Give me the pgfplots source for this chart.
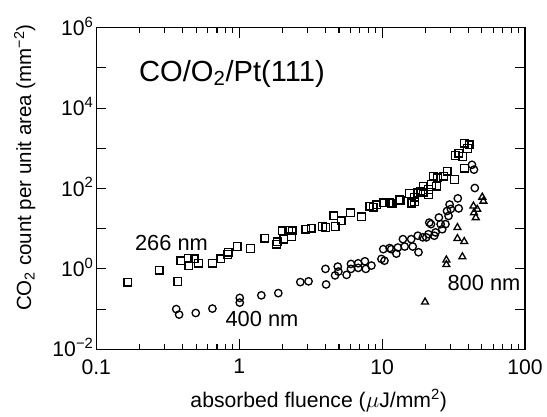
\documentclass[border=0pt]{standalone}
\usepackage{fontspec}
\setmainfont{Liberation Sans}
\usepackage{pgfplots}
\pgfplotsset{compat=1.18}
\newcommand{\mn}{\char"2212\relax}
\begin{document}
\begin{tikzpicture}
\begin{axis}[
  name=ax,
  xmode=log, ymode=log,
  scale only axis, width=324pt, height=243pt,
  xmin=0.1, xmax=100, ymin=1e-2, ymax=1e6,
  xtick={0.1,1,10,100}, xticklabels={0.1,1,10,100},
  ytick={1e-2,1e-1,1e0,1e1,1e2,1e3,1e4,1e5,1e6},
  yticklabels={10\textsuperscript{\mn2},,10\textsuperscript{0},,10\textsuperscript{2},,10\textsuperscript{4},,10\textsuperscript{6}},
  yminorticks=false,
  tick align=inside,
  major tick length=7.5pt, minor tick length=4pt,
  tick style={black, line width=0.8pt},
  axis line style={line width=1pt},
  tick label style={font=\fontsize{16}{19}\selectfont},
  yticklabel style={anchor=base east, yshift=-5.7pt, xshift=1.5pt},
  xticklabel style={yshift=-4pt},
  xlabel={absorbed fluence ($\mu$J/mm\textsuperscript{2})},
  ylabel={CO\textsubscript{2} count per unit area (mm\textsuperscript{\mn2})},
  every axis x label/.style={at={(rel axis cs:0.519,-0.182)}, anchor=base, font=\fontsize{16}{19}\selectfont},
  every axis y label/.style={at={(rel axis cs:-0.1667,0.565)}, rotate=90, anchor=center, font=\fontsize{15.5}{18}\selectfont},
  every axis plot/.append style={only marks, mark options={line width=1pt, fill=white}},
]
% 266 nm
\addplot[mark=square, mark size=2.9pt] coordinates {
(0.166,0.47)(0.275,0.93)(0.373,0.49)(0.39,1.6)(0.44,1.84)(0.445,1.2)(0.485,1.77)(0.52,1.4)
(0.65,1.38)(0.746,1.77)(0.83,2.27)(0.84,2.6)(0.97,3.6)(1.2,3.2)(1.51,5.8)(1.83,4.1)(1.86,4.7)
(2.0,8.9)(2.05,5.5)(2.22,9.2)(2.32,6.3)(2.35,8.9)(2.93,9.7)(3.2,10.3)(3.83,11.3)(4.04,10.7)
(4.69,11.3)(4.59,20.8)(5.17,15.6)(6.03,25)(7.2,19.9)(8.21,36.6)(8.66,34.7)(9.14,39)(10.2,44.3)
(11.2,44.3)(11.9,43.6)(11.6,42)(13.2,53)(13.4,51.6)(15.6,75)(16.0,44)(16.2,43.6)(16.9,47)
(16.9,61)(17.8,78)(18.7,86)(19.4,81)(19.4,114)(21.1,71)(21.1,94)(22.2,125)(22.8,202)(24,114)
(24.5,184)(26.9,202)(28.6,268)(32.2,167)(32.5,665)(34.4,760)(36.5,630)(37.6,1340)(39.7,1000)
(37.7,320)(40.8,1220)
};
% 400 nm
\addplot[mark=o, mark size=2.8pt] coordinates {
(0.363,0.1)(0.38,0.073)(0.497,0.08)(0.65,0.103)(1.01,0.19)(1.01,0.145)(1.43,0.22)(1.88,0.25)
(2.68,0.47)(3.06,0.49)(4.06,0.41)(4.02,1.0)(4.69,0.69)(4.9,1.14)(4.95,0.86)(5.65,0.71)
(6.06,1.33)(6.06,1.0)(6.81,1.38)(6.81,1.06)(7.59,1.55)(7.7,1.0)(8.43,1.21)(9.9,1.77)(10.2,3.1)
(10.4,1.6)(11.3,3.3)(11.6,3.1)(12.6,2.4)(12.9,3.4)(14.0,5.5)(14.4,3.6)(16.0,5.5)(16.4,3.6)
(17.8,6.7)(18.0,2.6)(19.3,6.1)(20.4,6.1)(21.1,7.3)(21.4,14.2)(22.0,13)(23.2,6.7)(23.7,8.1)
(25.0,19)(25.7,13)(26.4,9.7)(27.8,13)(28.5,27.6)(29.2,20.8)(29.7,40)(30.3,31)(33.9,56.9)
(34.4,32)(44.6,103)(42.6,390)(44,295)
};
% 800 nm
\addplot[mark=triangle, mark size=3pt] coordinates {
(20,0.15)(28.2,1.67)(28.2,1.28)(33.7,10.7)(33.7,5.7)(36.5,2.0)(37.6,4.8)(43.6,36.6)(44.0,25)
(45.3,18.9)(46.4,30.4)(50.3,61)(51.2,48.5)
};
\node[anchor=base west, inner sep=0pt, font=\fontsize{22}{25}\selectfont] at (rel axis cs:0.0995,0.834) {CO/O\textsubscript{2}/Pt(111)};
\node[anchor=base west, inner sep=0pt, font=\fontsize{16.5}{19}\selectfont] at (rel axis cs:0.09,0.306) {266 nm};
\node[anchor=base west, inner sep=0pt, font=\fontsize{16.5}{19}\selectfont] at (rel axis cs:0.301,0.070) {400 nm};
\node[anchor=base west, inner sep=0pt, font=\fontsize{16.5}{19}\selectfont] at (rel axis cs:0.819,0.183) {800 nm};
\end{axis}
% page margins as in the reference
\path (ax.south west) ++(-72.75pt,-47.25pt);
\path (ax.north east) ++(13.5pt,21pt);
\end{tikzpicture}
\end{document}
